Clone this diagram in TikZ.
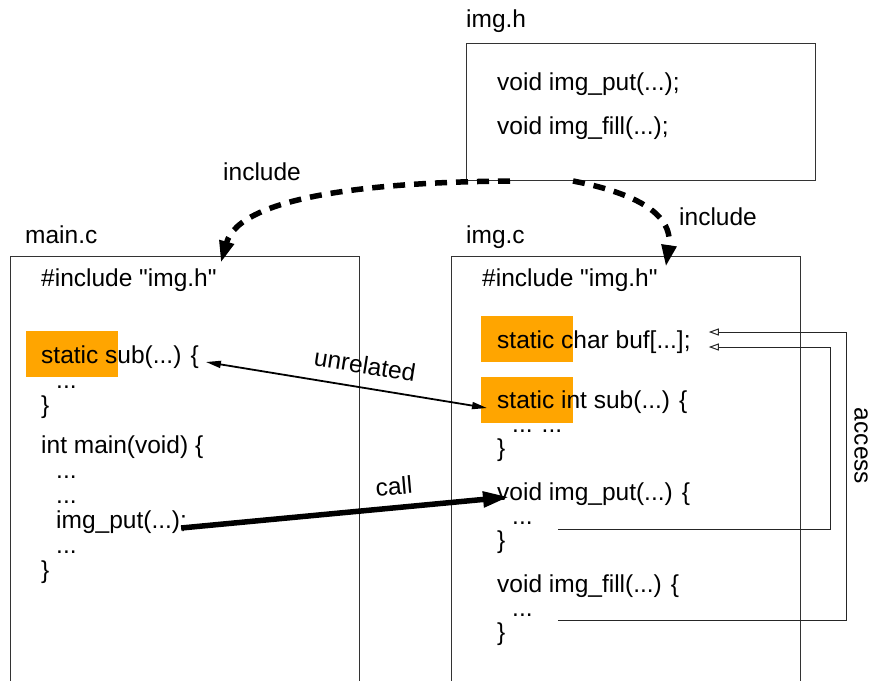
\documentclass[tikz,border=0pt]{standalone}
\usepackage{fontspec}
\setmainfont{Liberation Sans}[Ligatures=TeXOff]
\usetikzlibrary{arrows.meta}
\definecolor{hlorange}{HTML}{FFA500}
\begin{document}
\begin{tikzpicture}[x=1pt,y=-1pt,
  txt/.style={inner sep=0pt,anchor=base west,font=\fontsize{24.5}{26}\selectfont},
  lbl/.style={inner sep=0pt,font=\fontsize{24.5}{26}\selectfont},
  filebox/.style={draw=black!80,line width=1pt,inner sep=0pt,anchor=north west},
  hl/.style={fill=hlorange,inner sep=0pt,anchor=north west,minimum width=92pt,minimum height=46pt},
  inc/.style={line width=5.5pt,dash pattern=on 12pt off 9pt,-{Triangle[length=22pt,width=14pt]}},
  acc/.style={draw=black!85,line width=1pt,-{Triangle[open,length=10pt,width=7pt]}},
  rel/.style={line width=1.8pt,{Triangle[length=15pt,width=7pt]}-{Triangle[length=15pt,width=7pt]}},
  callarr/.style={line width=5.5pt,-{Triangle[length=26pt,width=15pt]}},
]
\useasboundingbox (0,0) rectangle (874,680);
\clip (0,0) rectangle (874,680);

% file boxes
\node[filebox,minimum width=349pt,minimum height=137pt] (imgh) at (466,43) {};
\node[filebox,minimum width=349pt,minimum height=460pt] (mainc) at (10,256) {};
\node[filebox,minimum width=349pt,minimum height=460pt] (imgc) at (451,256) {};

% titles
\node[txt] (timgh) at (466,27) {img.h};
\node[txt] (tmainc) at (25,243) {main.c};
\node[txt] (timgc) at (466,243) {img.c};

% highlights
\node[hl] (hl1) at (26,331) {};
\node[hl] (hl2) at (481,316) {};
\node[hl] (hl3) at (481,377) {};

% img.h contents
\node[txt] (hput) at (497,90) {void img\_put(...);};
\node[txt] (hfill) at (497,134) {void img\_fill(...);};

% main.c contents
\node[txt] (minc) at (41,286) {\#include "img.h"};
\node[txt] (msub) at (41,363) {static sub(...) \{};
\node[txt] (md1) at (56,388) {...};
\node[txt] (mc1) at (41,413) {\}};
\node[txt] (mmain) at (41,453) {int main(void) \{};
\node[txt] (md2) at (56,478) {...};
\node[txt] (md3) at (56,503) {...};
\node[txt] (mput) at (56,528) {img\_put(...);};
\node[txt] (md4) at (56,553) {...};
\node[txt] (mc2) at (41,578) {\}};

% img.c contents
\node[txt] (iinc) at (482,286) {\#include "img.h"};
\node[txt] (ibuf) at (497,348) {static char buf[...];};
\node[txt] (isub) at (497,408) {static int sub(...) \{};
\node[txt] (id1) at (512,432) {... ...};
\node[txt] (ic1) at (497,456) {\}};
\node[txt] (iput) at (497,500) {void img\_put(...) \{};
\node[txt] (id2) at (512,524) {...};
\node[txt] (ic2) at (497,548) {\}};
\node[txt] (ifill) at (497,592) {void img\_fill(...) \{};
\node[txt] (id3) at (512,616) {...};
\node[txt] (ic3) at (497,640) {\}};

% include arrows
\draw[inc] ([xshift=44pt]imgh.south west) .. controls (380,182) and (240,195) .. ([shift={(4,-23)}]minc.base east);
\draw[inc] ([xshift=107pt]imgh.south west) .. controls (630,192) and (674,212) .. ([shift={(8,-19)}]iinc.base east);
\node[txt] (linc1) at (223,180) {include};
\node[txt] (linc2) at (679,225) {include};

% unrelated
\draw[rel] ([shift={(7,-1)}]msub.base east) -- ([shift={(-10,0)}]isub.base west);
\node[lbl,rotate=-9] (lunrel) at (365,365) {unrelated};

% call
\draw[callarr] ([shift={(-6,0)}]mput.base east) -- ([shift={(12,-3)}]iput.base west);
\node[lbl,rotate=5] (lcall) at (394,486) {call};

% access
\coordinate (a1) at ([shift={(25,5)}]id2.base east);
\coordinate (a2) at ([shift={(25,4)}]id3.base east);
\draw[acc] (a1) -- (830,529) |- ([shift={(18,-1)}]ibuf.base east);
\draw[acc] (a2) -- (846,620) |- ([shift={(18,-16)}]ibuf.base east);
\node[lbl,rotate=-90] (lacc) at (861,446) {access};
\end{tikzpicture}
\end{document}
